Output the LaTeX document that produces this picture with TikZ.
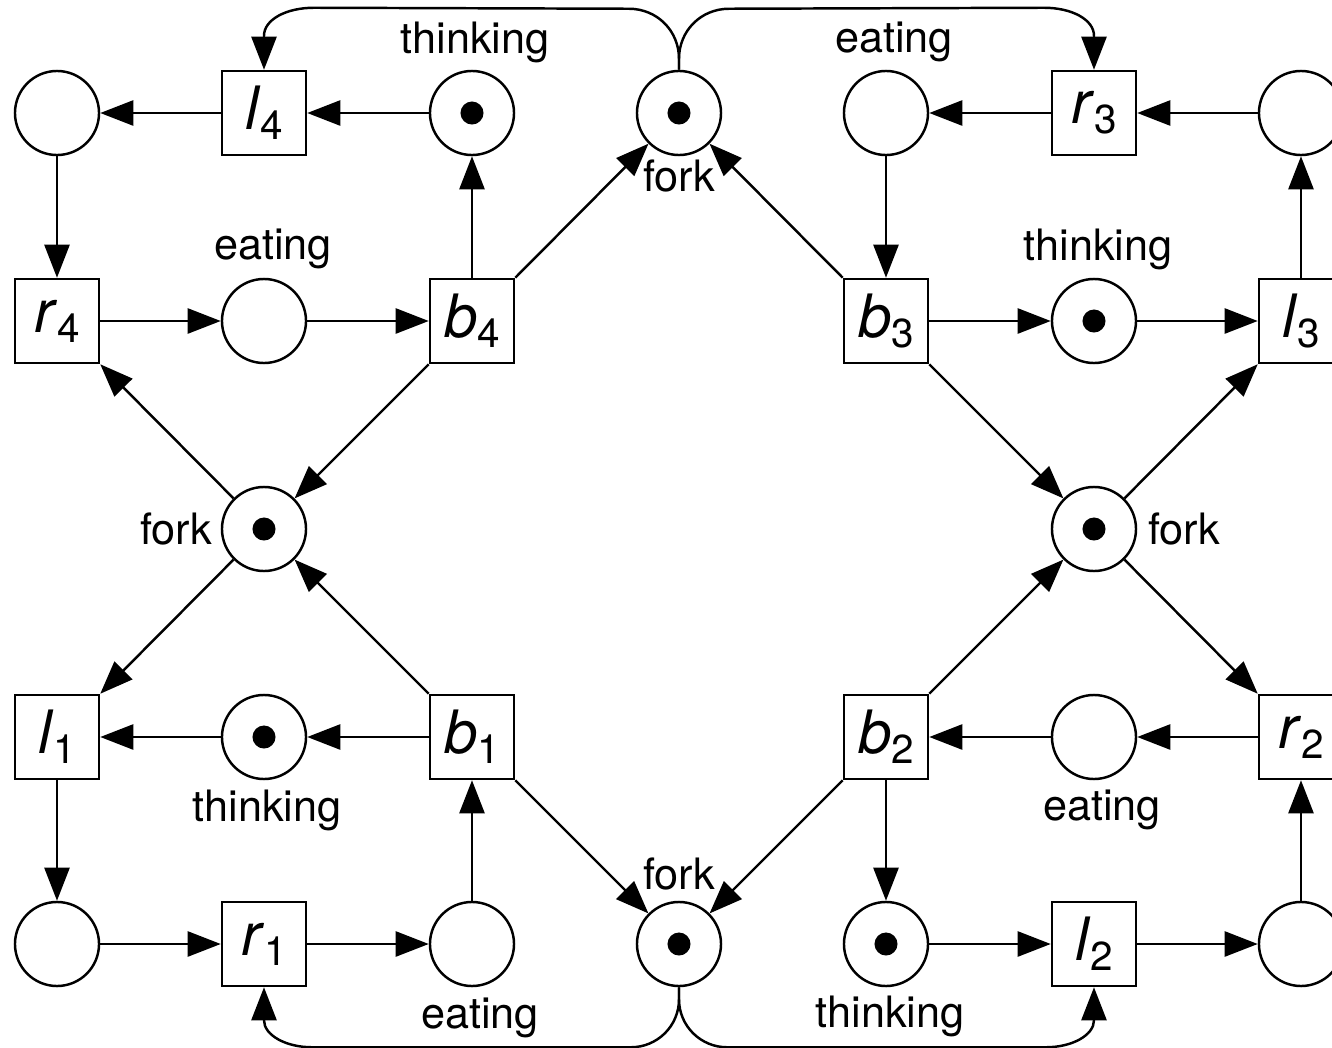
\documentclass[tikz,border=0pt]{standalone}
\usepackage{fontspec}
\setmainfont{TeX Gyre Heros}
\usetikzlibrary{arrows.meta,calc}
\newcommand{\tlab}[2]{\textit{#1}\raisebox{-0.1cm}{\fontsize{11.5}{11.5}\selectfont #2}}
\begin{document}
\begin{tikzpicture}[x=0.01cm,y=-0.01cm,line width=0.7pt,
  place/.style={circle,draw,minimum size=0.84cm,inner sep=0pt},
  tok/.style={place,path picture={\fill (path picture bounding box.center) circle (0.115cm);}},
  trans/.style={rectangle,draw,minimum size=0.84cm,inner sep=0pt,font=\fontsize{17}{17}\selectfont},
  lab/.style={font=\fontsize{12.3}{14}\selectfont,inner sep=0pt},
  arr/.style={-{Triangle[length=0.33cm,width=0.25cm]}}]
\useasboundingbox (0,0) rectangle (1332,1048);
\fill[white] (0,0) rectangle (1332,1048);
\clip (0,0) rectangle (1332,1048);
% row 1
\node[place] (p1) at (57,113) {};
\node[trans] (l4) at (264,113) {\tlab{l}{4}};
\node[tok] (th4) at (472,113) {};
\node[tok] (ft) at (679,113) {};
\node[place] (ea3) at (886,113) {};
\node[trans] (r3) at (1094,113) {\tlab{r}{3}};
\node[place] (p2) at (1301,113) {};
% row 2
\node[trans] (r4) at (57,321) {\tlab{r}{4}};
\node[place] (ea4) at (264,321) {};
\node[trans] (b4) at (472,321) {\tlab{b}{4}};
\node[trans] (b3) at (886,321) {\tlab{b}{3}};
\node[tok] (th3) at (1094,321) {};
\node[trans] (l3) at (1301,321) {\tlab{l}{3}};
% row 3
\node[tok] (fl) at (264,529) {};
\node[tok] (fr) at (1094,529) {};
% row 4
\node[trans] (l1) at (57,737) {\tlab{l}{1}};
\node[tok] (th1) at (264,737) {};
\node[trans] (b1) at (472,737) {\tlab{b}{1}};
\node[trans] (b2) at (886,737) {\tlab{b}{2}};
\node[place] (ea2) at (1094,737) {};
\node[trans] (r2) at (1301,737) {\tlab{r}{2}};
% row 5
\node[place] (p3) at (57,944) {};
\node[trans] (r1) at (264,944) {\tlab{r}{1}};
\node[place] (ea1) at (472,944) {};
\node[tok] (fb) at (679,944) {};
\node[tok] (th2) at (886,944) {};
\node[trans] (l2) at (1094,944) {\tlab{l}{2}};
\node[place] (p4) at (1301,944) {};
% labels
\node[lab] (t1) at (475,42) {thinking};
\node[lab] (t2) at (894,42) {eating};
\node[lab] (t3) at (679,176) {fork};
\node[lab] (t4) at (273,249) {eating};
\node[lab] (t5) at (1098,249) {thinking};
\node[lab] (t6) at (176,529) {fork};
\node[lab] (t7) at (1184,529) {fork};
\node[lab] (t8) at (267,810) {thinking};
\node[lab] (t9) at (1102,810) {eating};
\node[lab] (t10) at (679,874) {fork};
\node[lab] (t11) at (480,1018) {eating};
\node[lab] (t12) at (890,1016) {thinking};
% straight arcs
\draw[arr] (l4) -- (p1);
\draw[arr] (th4) -- (l4);
\draw[arr] (r3) -- (ea3);
\draw[arr] (p2) -- (r3);
\draw[arr] (p1) -- (r4);
\draw[arr] (ea3) -- (b3);
\draw[arr] (b4) -- (th4);
\draw[arr] (l3) -- (p2);
\draw[arr] (b4.north east) -- (ft);
\draw[arr] (b3.north west) -- (ft);
\draw[arr] (r4) -- (ea4);
\draw[arr] (ea4) -- (b4);
\draw[arr] (b3) -- (th3);
\draw[arr] (th3) -- (l3);
\draw[arr] (fl) -- (r4.south east);
\draw[arr] (b4.south west) -- (fl);
\draw[arr] (fl) -- (l1.north east);
\draw[arr] (b1.north west) -- (fl);
\draw[arr] (b3.south east) -- (fr);
\draw[arr] (fr) -- (l3.south west);
\draw[arr] (b2.north east) -- (fr);
\draw[arr] (fr) -- (r2.north west);
\draw[arr] (th1) -- (l1);
\draw[arr] (b1) -- (th1);
\draw[arr] (r2) -- (ea2);
\draw[arr] (ea2) -- (b2);
\draw[arr] (l1) -- (p3);
\draw[arr] (ea1) -- (b1);
\draw[arr] (b2) -- (th2);
\draw[arr] (p4) -- (r2);
\draw[arr] (b1.south east) -- (fb);
\draw[arr] (b2.south west) -- (fb);
\draw[arr] (p3) -- (r1);
\draw[arr] (r1) -- (ea1);
\draw[arr] (th2) -- (l2);
\draw[arr] (l2) -- (p4);
% curved arcs
\draw[arr] (ft.north) -- ($(ft.north)+(0,-11)$)
  .. controls ($(ft.north)+(0,-39)$) and ($(ft.north)+(-22,-61)$) .. ($(ft.north)+(-50,-61)$)
  -- ($(l4.north)+(50,-62)$)
  .. controls ($(l4.north)+(22,-62)$) and ($(l4.north)+(0,-50)$) .. ($(l4.north)+(0,-34)$)
  -- (l4.north);
\draw[arr] (ft.north) -- ($(ft.north)+(0,-11)$)
  .. controls ($(ft.north)+(0,-39)$) and ($(ft.north)+(22,-61)$) .. ($(ft.north)+(50,-61)$)
  -- ($(r3.north)+(-50,-62)$)
  .. controls ($(r3.north)+(-22,-62)$) and ($(r3.north)+(0,-50)$) .. ($(r3.north)+(0,-34)$)
  -- (r3.north);
\draw[arr] (fb.south) -- ($(fb.south)+(0,12)$)
  .. controls ($(fb.south)+(0,39)$) and ($(fb.south)+(-22,60)$) .. ($(fb.south)+(-48,60)$)
  -- ($(r1.south)+(48,60)$)
  .. controls ($(r1.south)+(22,60)$) and ($(r1.south)+(0,48)$) .. ($(r1.south)+(0,33)$)
  -- (r1.south);
\draw[arr] (fb.south) -- ($(fb.south)+(0,12)$)
  .. controls ($(fb.south)+(0,39)$) and ($(fb.south)+(22,60)$) .. ($(fb.south)+(48,60)$)
  -- ($(l2.south)+(-48,60)$)
  .. controls ($(l2.south)+(-22,60)$) and ($(l2.south)+(0,48)$) .. ($(l2.south)+(0,33)$)
  -- (l2.south);
\end{tikzpicture}
\end{document}
